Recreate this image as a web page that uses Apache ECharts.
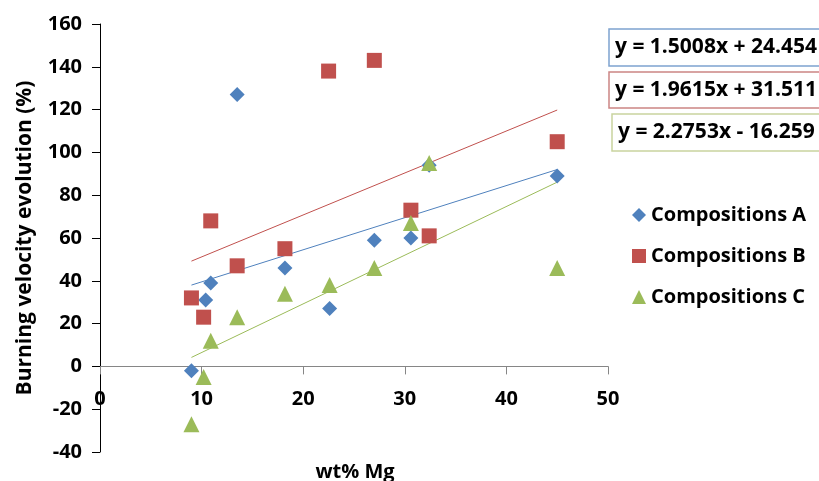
<!DOCTYPE html>
<html><head><meta charset="utf-8">
<script src="https://cdn.jsdelivr.net/npm/echarts@6/dist/echarts.min.js"></script>
<style>html,body{margin:0;padding:0;background:#fff}#c{width:819px;height:481px}</style>
</head><body><div id="c"></div>
<script>
const seriesNames = ['Compositions A', 'Compositions B', 'Compositions C'];
const xA = [9, 10.4, 10.9, 13.5, 18.2, 22.6, 27, 30.6, 32.4, 45];
const yA = [-2, 31, 39, 127, 46, 27, 59, 60, 94, 89];
const xB = [9, 10.2, 10.9, 13.5, 18.2, 22.5, 27, 30.6, 32.4, 45];
const yB = [32, 23, 68, 47, 55, 138, 143, 73, 61, 105];
const xC = [9, 10.2, 10.9, 13.5, 18.2, 22.6, 27, 30.6, 32.4, 45];
const yC = [-27, -5, 12, 23, 34, 38, 46, 67, 95, 46];
// trendline endpoints (x = 9 and x = 45)
const trendX = [9, 45];
const trendA = [38.0, 92.0];
const trendB = [49.2, 119.8];
const trendC = [4.2, 86.1];
const equations = ['y = 1.5008x + 24.454', 'y = 1.9615x + 31.511', 'y = 2.2753x - 16.259'];
const xTicks = [0, 10, 20, 30, 40, 50];
const yTicks = [-40, -20, 0, 20, 40, 60, 80, 100, 120, 140, 160];

const colors = ['#4F81BD', '#C0504D', '#9BBB59'];
const boxColors = ['#7EA3CF', '#CC8584', '#C9D49E'];
const FONT = '"Open Sans", sans-serif';
const pairs = (xs, ys) => xs.map((x, i) => [x, ys[i]]);

const chart = echarts.init(document.getElementById('c'), null, {renderer: 'canvas'});
const symbols = ['diamond', 'rect', 'triangle'];
const sizes = [15, 15, 16];
const pts = [pairs(xA, yA), pairs(xB, yB), pairs(xC, yC)];
const trends = [trendA, trendB, trendC];

const series = [];
trends.forEach((t, i) => {
  series.push({
    name: 'trend' + i, type: 'line', data: pairs(trendX, t), showSymbol: false, symbol: 'none',
    lineStyle: {color: colors[i], width: 1}, silent: true, z: 1
  });
});
pts.forEach((p, i) => {
  series.push({
    name: seriesNames[i], type: 'scatter', data: p, symbol: symbols[i], symbolSize: sizes[i],
    itemStyle: {color: colors[i], opacity: 1}, z: 2 + i
  });
});

const graphics = [];
const boxTops = [29, 72, 114];
const boxLefts = [609, 609, 612];
const boxH = [37, 36, 37];
equations.forEach((e, i) => {
  graphics.push({type: 'rect', shape: {x: boxLefts[i], y: boxTops[i], width: 240, height: boxH[i]},
    style: {fill: '#fff', stroke: boxColors[i], lineWidth: 1.5}, z: 10});
  graphics.push({type: 'text', x: boxLefts[i] + 6, y: boxTops[i] + boxH[i] / 2,
    style: {text: e, font: 'bold 21px ' + FONT, fill: '#000', textVerticalAlign: 'middle'}, z: 11});
});
graphics.push({type: 'text', x: 25, y: 238, rotation: Math.PI / 2,
  style: {text: 'Burning velocity evolution (%)', font: 'bold 21px ' + FONT, fill: '#000',
    textAlign: 'center', textVerticalAlign: 'middle'}});
graphics.push({type: 'text', x: 355, y: 472,
  style: {text: 'wt% Mg', font: 'bold 20px ' + FONT, fill: '#000',
    textAlign: 'center', textVerticalAlign: 'middle'}});

chart.setOption({
  animation: false,
  color: colors,
  grid: {left: 100, right: 211, top: 24, bottom: 29, containLabel: false, outerBoundsMode: 'none'},
  legend: {
    data: seriesNames, orient: 'vertical', left: 627, top: 200, itemGap: 21,
    itemWidth: 14, itemHeight: 14, itemTextGap: 5,
    textStyle: {fontFamily: FONT, fontWeight: 'bold', fontSize: 20, color: '#000', lineHeight: 20}
  },
  xAxis: {
    type: 'value', min: 0, max: 50, interval: 10,
    axisLine: {onZero: true, lineStyle: {color: '#868686', width: 1}},
    axisTick: {show: true, inside: false, length: 8, lineStyle: {color: '#868686'}},
    axisLabel: {margin: -63, fontFamily: FONT, fontWeight: 'bold', fontSize: 20, color: '#000',
      formatter: v => xTicks.includes(v) ? String(v) : ''},
    splitLine: {show: false}
  },
  yAxis: {
    type: 'value', min: -40, max: 160, interval: 20,
    axisLine: {show: true, onZero: false, lineStyle: {color: '#000', width: 1}},
    axisTick: {show: true, inside: false, length: 8, lineStyle: {color: '#000'}},
    axisLabel: {margin: 18, fontFamily: FONT, fontWeight: 'bold', fontSize: 20, color: '#000',
      formatter: v => yTicks.includes(v) ? String(v) : ''},
    splitLine: {show: false}
  },
  graphic: graphics,
  series: series
});
</script></body></html>
